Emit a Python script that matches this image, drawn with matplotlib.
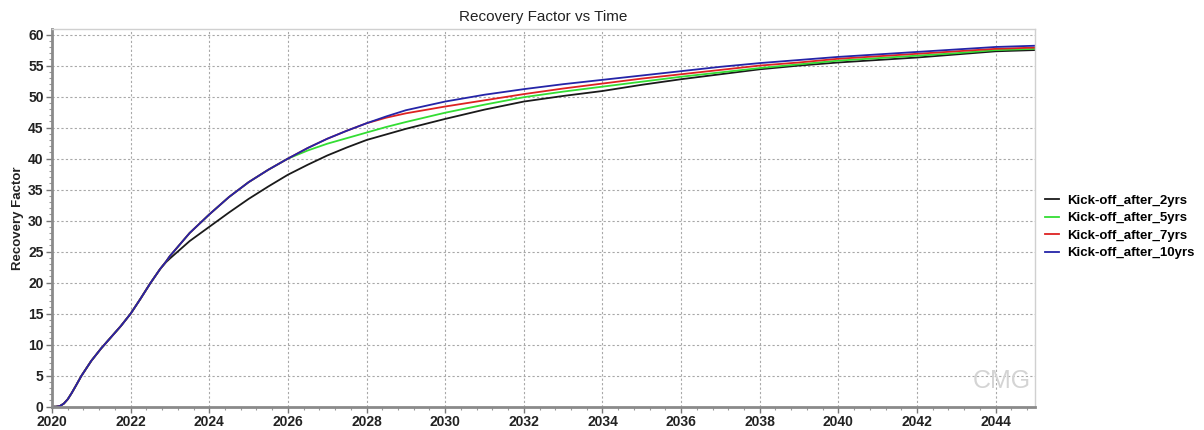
import matplotlib
matplotlib.use("Agg")
import matplotlib.pyplot as plt
from matplotlib.ticker import MultipleLocator

plt.rcParams["font.family"] = ["Liberation Sans", "DejaVu Sans"]

# simulation report times (years)
years = [2020, 2020.1, 2020.2, 2020.3, 2020.4, 2020.5, 2020.6, 2020.75, 2021, 2021.25,
         2021.5, 2021.75, 2022, 2022.25, 2022.5, 2022.75, 2022.9, 2023, 2023.5, 2024,
         2024.5, 2025, 2025.5, 2026, 2026.5, 2027, 2027.5, 2028, 2028.5, 2029,
         2030, 2031, 2032, 2033, 2034, 2035, 2036, 2037, 2038, 2039,
         2040, 2041, 2042, 2043, 2044, 2045]

rf_2yrs = [0, 0, 0.1, 0.5, 1.2, 2.2, 3.3, 5.0, 7.4, 9.4,
           11.2, 13.0, 15.0, 17.4, 19.9, 22.2, 23.3, 23.9, 26.7, 29.0,
           31.3, 33.5, 35.5, 37.4, 39.0, 40.5, 41.8, 43.0, 43.9, 44.8,
           46.4, 47.9, 49.2, 50.1, 50.9, 51.9, 52.8, 53.6, 54.4, 55.0,
           55.5, 55.9, 56.3, 56.8, 57.3, 57.5]

rf_5yrs = [0, 0, 0.1, 0.5, 1.2, 2.2, 3.3, 5.0, 7.4, 9.4,
           11.2, 13.0, 15.0, 17.4, 19.9, 22.2, 23.4, 24.3, 28.0, 31.0,
           33.8, 36.2, 38.2, 40.0, 41.3, 42.4, 43.3, 44.2, 45.1, 45.9,
           47.4, 48.7, 49.9, 50.8, 51.6, 52.4, 53.2, 53.9, 54.6, 55.2,
           55.8, 56.2, 56.6, 57.0, 57.5, 57.7]

rf_7yrs = [0, 0, 0.1, 0.5, 1.2, 2.2, 3.3, 5.0, 7.4, 9.4,
           11.2, 13.0, 15.0, 17.4, 19.9, 22.2, 23.4, 24.3, 28.0, 31.0,
           33.8, 36.2, 38.2, 40.0, 41.7, 43.2, 44.5, 45.7, 46.6, 47.3,
           48.4, 49.4, 50.4, 51.3, 52.1, 52.9, 53.6, 54.3, 55.0, 55.5,
           56.1, 56.5, 56.9, 57.3, 57.7, 57.9]

rf_10yrs = [0, 0, 0.1, 0.5, 1.2, 2.2, 3.3, 5.0, 7.4, 9.4,
            11.2, 13.0, 15.0, 17.4, 19.9, 22.2, 23.4, 24.3, 28.0, 31.0,
            33.8, 36.2, 38.2, 40.0, 41.7, 43.2, 44.5, 45.7, 46.8, 47.8,
            49.2, 50.3, 51.2, 52.0, 52.7, 53.4, 54.1, 54.8, 55.4, 55.9,
            56.4, 56.8, 57.2, 57.6, 58.0, 58.2]

labels = ["Kick-off_after_2yrs", "Kick-off_after_5yrs",
          "Kick-off_after_7yrs", "Kick-off_after_10yrs"]
colors = ["#1a1a1a", "#33dd33", "#dd2222", "#2424a8"]

fig = plt.figure(figsize=(12.04, 4.30), dpi=100)
ax = fig.add_axes([0.0432, 0.0542, 0.8164, 0.8784])

for vals, lab, col in zip([rf_2yrs, rf_5yrs, rf_7yrs, rf_10yrs], labels, colors):
    ax.plot(years, vals, color=col, lw=1.3, label=lab)

ax.set_xlim(2020, 2045)
ax.set_ylim(0, 60.9)
ax.xaxis.set_major_locator(MultipleLocator(2))
ax.xaxis.set_minor_locator(MultipleLocator(0.4))
ax.yaxis.set_major_locator(MultipleLocator(5))
ax.yaxis.set_minor_locator(MultipleLocator(1))

ax.grid(True, which="major", color="#a8a8a8", ls=(0, (2, 2)), lw=0.8)
ax.set_axisbelow(True)

for side in ["left", "bottom"]:
    ax.spines[side].set_color("#8a8a8a")
    ax.spines[side].set_linewidth(2)
for side in ["top", "right"]:
    ax.spines[side].set_color("#d0d0d0")
    ax.spines[side].set_linewidth(1)

ax.tick_params(which="major", length=4, width=1, color="#777777", labelsize=10, pad=2)
ax.tick_params(which="minor", length=2, width=0.8, color="#999999")
for t in ax.get_xticklabels() + ax.get_yticklabels():
    t.set_fontweight("bold")
    t.set_color("#222222")

ax.set_title("Recovery Factor vs Time", fontsize=11, color="#222222", pad=6)
ax.set_ylabel("Recovery Factor", fontsize=9.5, fontweight="bold", color="#222222", labelpad=3)

# CMG watermark
ax.text(0.966, 0.035, "CMG", transform=ax.transAxes, ha="center", va="bottom",
        fontsize=18, color="#d4d4d4")

fig.legend(loc="center left", bbox_to_anchor=(0.858, 0.472), frameon=False,
           prop={"size": 9.5, "weight": "bold"}, handlelength=1.1,
           handletextpad=0.55, labelspacing=0.4)

fig.savefig("out.png", dpi=100)
